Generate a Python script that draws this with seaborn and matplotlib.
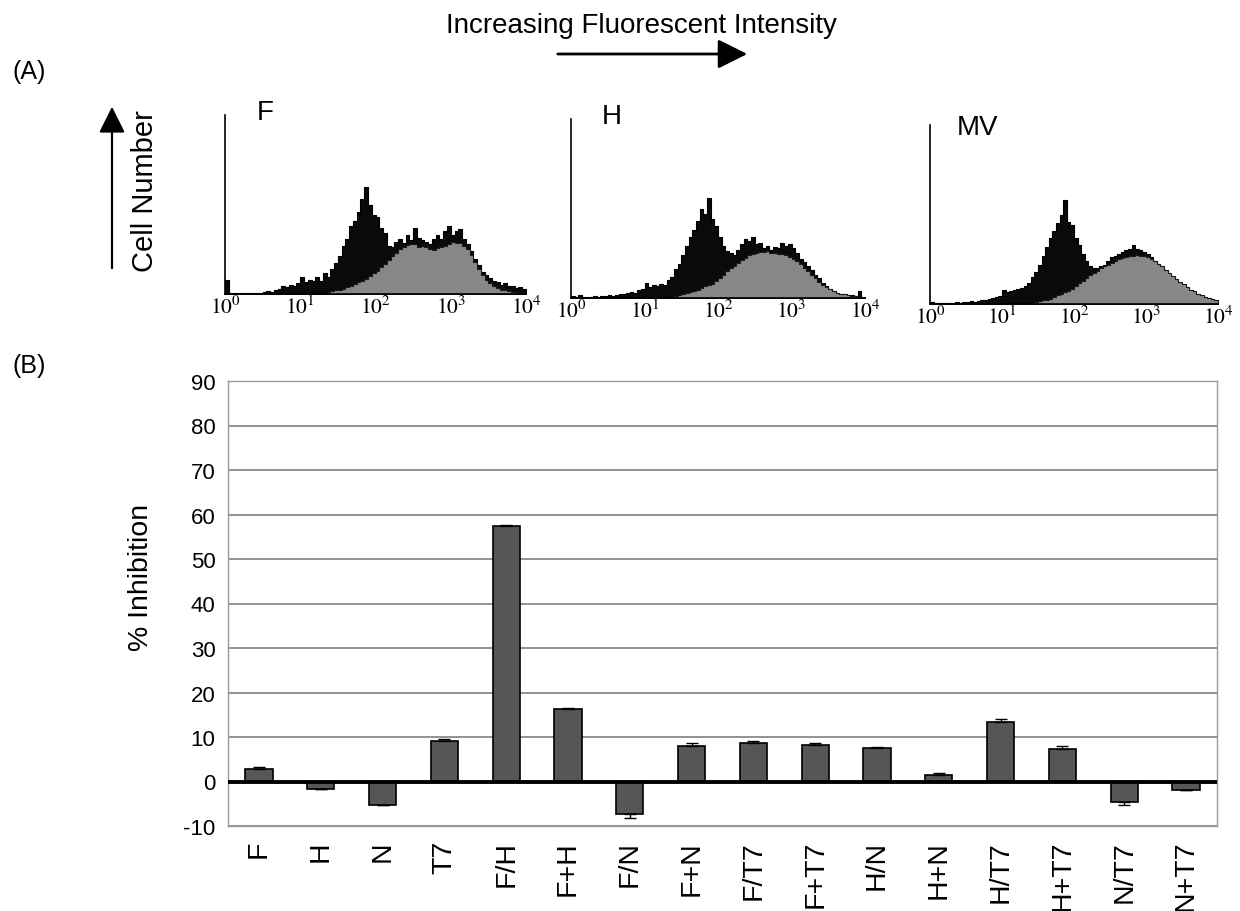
import numpy as np
import pandas as pd
import matplotlib
matplotlib.use("Agg")
import matplotlib.pyplot as plt
import seaborn as sns

# ---------------- data ----------------
categories = ["F", "H", "N", "T7", "F/H", "F+H", "F/N", "F+N", "F/T7", "F+T7",
              "H/N", "H+N", "H/T7", "H+T7", "N/T7", "N+T7"]
inhibition = [2.9, -1.6, -5.3, 9.1, 57.5, 16.2, -7.2, 7.9, 8.7, 8.2,
              7.6, 1.4, 13.4, 7.4, -4.6, -1.8]
inhibition_err = [0.3, 0.0, 0.0, 0.4, 0.1, 0.4, 0.9, 0.7, 0.5, 0.5,
                  0.1, 0.5, 0.7, 0.5, 0.6, 0.1]
yticks_b = [-10, 0, 10, 20, 30, 40, 50, 60, 70, 80, 90]

# flow-cytometry histograms: 80 channels, 0.05 decade each from 10^0 to 10^4
# heights in % of panel height
F_black = [8, 0.5, 0.3, 0.6, 0.4, 0.5, 0.3, 0.6, 0.8, 0.6,
           1.2, 1.5, 1.0, 2.5, 3.0, 4.5, 3.8, 5.0, 4.2, 6.0,
           9.5, 6.5, 8.0, 7.0, 9.5, 7.5, 11.5, 9.5, 14.0, 17.5,
           21.0, 27.0, 31.0, 38.0, 41.0, 46.0, 53.0, 60.0, 50.0, 44.0,
           43.0, 37.0, 34.0, 27.0, 26.0, 29.0, 31.0, 28.5, 33.0, 30.0,
           37.0, 31.5, 30.0, 29.0, 28.0, 31.0, 33.0, 31.0, 35.0, 38.0,
           33.0, 35.0, 36.5, 31.0, 28.0, 24.0, 19.5, 16.0, 12.5, 10.5,
           9.0, 7.5, 6.5, 5.0, 6.0, 4.5, 4.2, 3.5, 4.0, 3.0]
F_grey = [0, 0, 0, 0, 0, 0, 0, 0, 0, 0,
          0, 0, 0, 0, 0, 0, 0, 0, 0, 0,
          0, 0, 0, 0, 0, 0, 0.5, 1.0, 1.5, 2.0,
          2.5, 3.0, 4.0, 4.5, 5.5, 6.5, 7.5, 8.5, 10.0, 11.5,
          13.0, 15.0, 17.0, 19.0, 21.0, 23.0, 25.0, 26.0, 27.5, 28.0,
          28.0, 26.5, 27.0, 26.0, 25.0, 24.5, 25.5, 26.0, 27.0, 28.0,
          29.0, 28.5, 28.5, 27.0, 25.0, 22.0, 18.0, 14.0, 10.5, 8.0,
          6.0, 4.5, 3.5, 2.5, 2.0, 1.5, 1.2, 1.0, 0.8, 0.6]
H_black = [1.0, 0.5, 1.5, 0.4, 0.6, 0.5, 1.0, 0.8, 1.2, 1.0,
           1.5, 1.2, 1.8, 2.2, 2.5, 3.0, 3.5, 3.0, 4.5, 5.0,
           8.5, 6.0, 7.0, 6.5, 8.0, 7.5, 10.0, 12.0, 16.0, 19.0,
           24.0, 29.0, 34.0, 38.0, 43.0, 50.0, 47.0, 56.0, 44.0, 40.0,
           34.0, 29.0, 26.0, 25.0, 24.0, 27.0, 30.0, 33.0, 32.0, 34.0,
           30.0, 31.0, 28.0, 29.0, 27.0, 28.5, 28.0, 31.0, 29.0, 30.0,
           28.0, 25.0, 22.0, 20.0, 18.0, 15.5, 13.0, 11.0, 8.5, 6.5,
           5.0, 4.0, 3.0, 2.5, 2.0, 1.8, 1.5, 1.2, 4.0, 0.0]
H_grey = [0, 0, 0, 0, 0, 0, 0, 0, 0, 0,
          0, 0, 0, 0, 0, 0, 0, 0, 0, 0,
          0, 0, 0, 0, 0, 0, 0.5, 0.8, 1.2, 1.6,
          2.0, 2.6, 3.2, 4.0, 4.5, 5.5, 6.5, 7.5, 8.0, 9.5,
          11.0, 13.0, 15.0, 16.5, 18.0, 19.5, 21.0, 22.5, 24.0, 24.5,
          25.0, 25.5, 25.5, 26.0, 25.0, 25.0, 24.5, 24.5, 24.0, 23.0,
          22.0, 20.5, 19.0, 17.0, 15.0, 13.0, 11.0, 9.0, 7.5, 6.0,
          5.0, 4.0, 3.0, 2.5, 2.0, 1.6, 1.2, 1.0, 0.8, 0.5]
MV_black = [1.0, 0.5, 0.3, 0.8, 0.3, 0.5, 0.8, 1.0, 0.8, 1.0,
            1.2, 1.5, 1.2, 1.8, 2.0, 2.0, 3.0, 3.5, 4.0, 4.5,
            8.0, 6.5, 7.5, 8.0, 8.5, 9.0, 10.0, 12.0, 15.0, 18.0,
            22.0, 27.0, 32.0, 37.0, 41.0, 45.0, 50.0, 58.0, 46.0, 44.0,
            37.0, 33.0, 28.0, 24.0, 21.0, 20.0, 20.0, 21.0, 22.0, 24.0,
            26.0, 27.0, 28.0, 29.0, 30.0, 31.0, 33.0, 31.0, 30.0, 29.0,
            28.0, 26.0, 24.0, 22.5, 21.0, 19.0, 17.0, 15.0, 13.0, 11.5,
            10.0, 9.0, 7.5, 6.5, 5.6, 4.6, 3.7, 3.2, 3.0, 2.5]
MV_grey = [0, 0, 0, 0, 0, 0, 0, 0, 0, 0,
           0, 0, 0, 0, 0, 0, 0, 0, 0, 0,
           0, 0, 0, 0, 0, 0, 0, 0, 0.5, 1.0,
           1.5, 2.0, 2.5, 3.0, 4.0, 4.8, 5.5, 6.5, 7.5, 8.5,
           10.0, 11.5, 13.0, 14.5, 16.0, 17.5, 18.5, 20.0, 21.0, 22.0,
           23.0, 24.0, 25.0, 25.5, 26.5, 27.0, 27.0, 27.5, 27.0, 27.0,
           26.0, 25.0, 24.0, 22.5, 21.0, 19.0, 17.5, 15.5, 14.0, 12.5,
           11.0, 9.5, 8.0, 7.0, 5.5, 4.8, 4.0, 3.5, 3.0, 2.5]
hist_panels = ["F", "H", "MV"]
decade_labels = [r"$10^{0}$", r"$10^{1}$", r"$10^{2}$", r"$10^{3}$", r"$10^{4}$"]

# ---------------- style ----------------
sns.set_style("white")
plt.rcParams["font.family"] = ["Liberation Sans", "DejaVu Sans"]
plt.rcParams["mathtext.fontset"] = "stix"
for key in ["text.color", "axes.labelcolor", "xtick.color", "ytick.color"]:
    plt.rcParams[key] = "black"

W, H = 1240, 912
fig = plt.figure(figsize=(W / 100, H / 100), dpi=100)


def px_axes(left, top, right, bottom):
    return fig.add_axes([left / W, 1 - bottom / H, (right - left) / W, (bottom - top) / H])


def ftext(x, y, s, **kw):
    fig.text(x / W, 1 - y / H, s, **kw)


# ---------------- panel A ----------------
centers = np.arange(80) * 0.05 + 0.025
boxes = [(225, 116, 526, 295), (571, 120, 865, 299), (930, 126, 1218, 305)]
series = [(F_black, F_grey), (H_black, H_grey), (MV_black, MV_grey)]
name_pos = [(257, 113), (602, 117), (957, 128)]

for box, (blk, gry), name, npos in zip(boxes, series, hist_panels, name_pos):
    ax = px_axes(*box)
    dfh = pd.DataFrame({"channel": centers, "black": blk, "grey": gry})
    sns.histplot(data=dfh, x="channel", weights="black", binwidth=0.05, binrange=(0, 4),
                 element="step", fill=True, facecolor="#0a0a0a", edgecolor="#000000",
                 linewidth=0.8, alpha=1, ax=ax)
    sns.histplot(data=dfh, x="channel", weights="grey", binwidth=0.05, binrange=(0, 4),
                 element="step", fill=True, facecolor="#878787", edgecolor="#1a1a1a",
                 linewidth=0.8, alpha=1, ax=ax)
    ax.set_xlim(0, 4)
    ax.set_ylim(0, 100)
    ax.set_xlabel("")
    ax.set_ylabel("")
    ax.set_yticks([])
    ax.set_xticks(range(5))
    ax.set_xticklabels(decade_labels, fontsize=15.5)
    ax.tick_params(axis="x", length=0, pad=1)
    for s in ["top", "right"]:
        ax.spines[s].set_visible(False)
    for s in ["left", "bottom"]:
        ax.spines[s].set_color("black")
        ax.spines[s].set_linewidth(1.2)
    ax.set_facecolor("none")
    ftext(npos[0], npos[1], name, fontsize=20, ha="left", va="center")

# panel A annotations
ftext(12, 72, "(A)", fontsize=18, ha="left", va="center")
ftext(641, 26, "Increasing Fluorescent Intensity", fontsize=20, ha="center", va="center")
fig.add_artist(matplotlib.patches.FancyArrowPatch(
    (555 / W, 1 - 55 / H), (750 / W, 1 - 55 / H), transform=fig.transFigure,
    arrowstyle="-|>,head_length=0.9,head_width=0.45", mutation_scale=20,
    linewidth=2, color="black"))
fig.add_artist(matplotlib.patches.FancyArrowPatch(
    (112 / W, 1 - 272 / H), (112 / W, 1 - 105 / H), transform=fig.transFigure,
    arrowstyle="-|>,head_length=0.8,head_width=0.4", mutation_scale=20,
    linewidth=1.6, color="black"))
ftext(145, 191, "Cell Number", fontsize=21, rotation=90, ha="center", va="center")

# ---------------- panel B ----------------
ftext(12, 366, "(B)", fontsize=18, ha="left", va="center")
axb = px_axes(228, 382, 1217, 827)
df = pd.DataFrame({"group": categories, "inhibition": inhibition})
sns.barplot(data=df, x="group", y="inhibition", order=categories, color="#565656",
            saturation=1, width=0.44, edgecolor="black", linewidth=1.2,
            errorbar=None, ax=axb, zorder=3)
pos = np.arange(len(categories))
vals = np.array(inhibition)
errs = np.array(inhibition_err)
lower = np.where(vals < 0, errs, 0)
upper = np.where(vals >= 0, errs, 0)
axb.errorbar(pos, vals, yerr=[lower, upper], fmt="none", ecolor="black",
             elinewidth=1, capsize=4, capthick=1, zorder=4)
axb.set_ylim(-10, 90)
axb.set_xlim(-0.5, len(categories) - 0.5)
axb.set_yticks(yticks_b)
axb.set_yticklabels([str(v) for v in yticks_b], fontsize=16)
axb.tick_params(axis="y", length=0, pad=9)
axb.tick_params(axis="x", length=0, pad=10)
axb.set_xticks(pos)
axb.set_xticklabels(categories, rotation=90, fontsize=20.5, ha="center", va="top")
axb.set_xlabel("")
axb.set_ylabel("% Inhibition", fontsize=20.5)
axb.yaxis.set_label_coords((154 - 228) / 989, (827 - 577) / 445)
axb.grid(axis="y", color="#808080", linewidth=1.2, zorder=0)
axb.grid(axis="x", visible=False)
axb.set_axisbelow(True)
for s in axb.spines.values():
    s.set_color("#9a9a9a")
    s.set_linewidth(1.0)
axb.axhline(0, color="black", linewidth=2.8, zorder=5)

fig.savefig("out.png", dpi=100)
